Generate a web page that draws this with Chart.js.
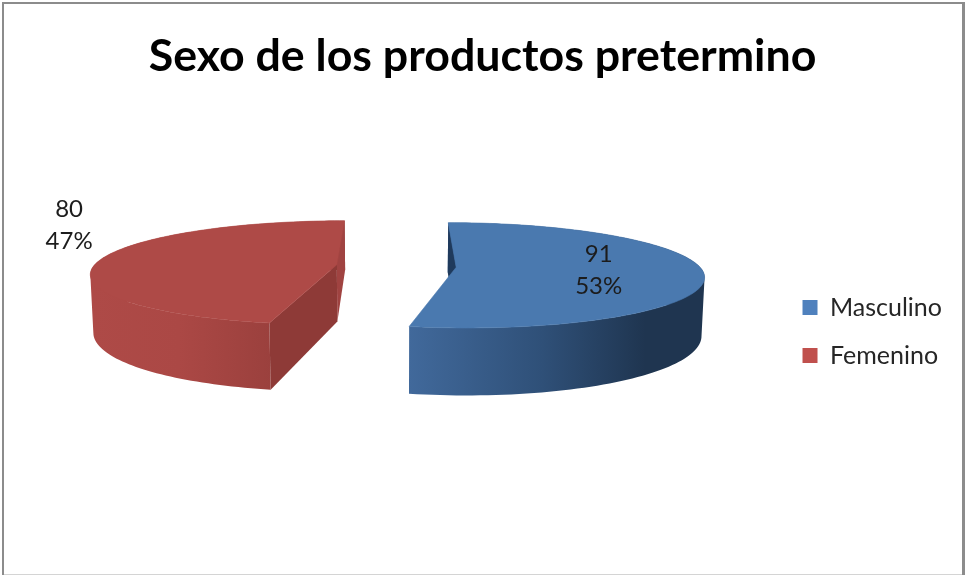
<!DOCTYPE html>
<html>
<head>
<meta charset="utf-8">
<title>Sexo de los productos pretermino</title>
<script src="https://cdn.jsdelivr.net/npm/chart.js@4"></script>
<style>
    html, body { margin: 0; padding: 0; background: #fff; }
    canvas { display: block; }
</style>
</head>
<body>
<canvas id="sexo" width="965" height="575"></canvas>
<script>
const categories = ['Masculino', 'Femenino'];
const counts = [91, 80];
const legendColors = ['#4f81bd', '#c0504d'];

// colours of the extruded pie, one entry per slice
const topColors = ['#4a79af', '#ae4a47'];
const wallStops = [
    [[0, '#41699b'], [0.45, '#2f5078'], [0.8, '#1f3550'], [1, '#1f3550']],
    [[0, '#ae4a47'], [0.35, '#ab4845'], [1, '#8e3a37']]
];
const startFaceColors = ['#1f3a5c', '#8e3a37'];
const endFaceColors = [null, '#a04341'];

// camera used to lay the pie flat
const camera = { distance: 1600, tilt: 0.21, depth: 57, floorScale: 0.99, centerY: 266 };

function project(arc, px, py) {
    const s = camera.distance / (camera.distance - py);
    return { x: arc.x + px * s, y: camera.centerY + camera.tilt * py * s, s: s };
}

function floorOf(arc, p) {
    return { x: arc.x + (p.x - arc.x) * camera.floorScale, y: p.y + camera.depth * p.s };
}

function rimPoints(arc) {
    const mid = (arc.startAngle + arc.endAngle) / 2;
    const ox = Math.cos(mid) * arc.options.offset;
    const oy = Math.sin(mid) * arc.options.offset;
    const pts = [];
    const steps = 120;
    for (let i = 0; i <= steps; i++) {
        const a = arc.startAngle + (arc.endAngle - arc.startAngle) * i / steps;
        pts.push(project(arc, ox + Math.cos(a) * arc.outerRadius, oy + Math.sin(a) * arc.outerRadius));
    }
    return { pts: pts, apex: project(arc, ox, oy) };
}

function fillPath(ctx, pts, fill) {
    ctx.beginPath();
    pts.forEach((p, i) => (i ? ctx.lineTo(p.x, p.y) : ctx.moveTo(p.x, p.y)));
    ctx.closePath();
    ctx.fillStyle = fill;
    ctx.fill();
}

// outer wall as one path of small quads, all wound the same way so they never cancel out
function fillWall(ctx, rim, floor, fill) {
    ctx.beginPath();
    for (let i = 0; i < rim.length - 1; i++) {
        const a = rim[i], b = rim[i + 1], c = floor[i + 1], d = floor[i];
        const area = (b.x - a.x) * (d.y - a.y) - (b.y - a.y) * (d.x - a.x);
        const quad = area > 0 ? [a, b, c, d] : [d, c, b, a];
        ctx.moveTo(quad[0].x, quad[0].y);
        ctx.lineTo(quad[1].x, quad[1].y);
        ctx.lineTo(quad[2].x, quad[2].y);
        ctx.lineTo(quad[3].x, quad[3].y);
        ctx.closePath();
    }
    ctx.fillStyle = fill;
    ctx.fill();
}

const framePlugin = {
    id: 'frame',
    beforeDraw(chart) {
        const ctx = chart.ctx;
        ctx.save();
        ctx.fillStyle = '#fff';
        ctx.fillRect(0, 0, chart.width, chart.height);
        ctx.fillStyle = '#8c8c8c';
        ctx.fillRect(2, 2, 961, 2);
        ctx.fillRect(2, 2, 2, 573);
        ctx.fillRect(962, 2, 3, 573);
        ctx.fillStyle = '#d4d4d4';
        ctx.fillRect(4, 574, 958, 1);
        ctx.restore();
    }
};

const pie3dPlugin = {
    id: 'pie3d',
    beforeDatasetsDraw(chart) {
        const ctx = chart.ctx;
        const arcs = chart.getDatasetMeta(0).data;
        ctx.save();
        arcs.forEach((arc, i) => {
            const rim = rimPoints(arc);
            const floor = rim.pts.map(p => floorOf(arc, p));
            const xs = rim.pts.map(p => p.x);
            const grad = ctx.createLinearGradient(Math.min(...xs), 0, Math.max(...xs), 0);
            wallStops[i].forEach(s => grad.addColorStop(s[0], s[1]));

            fillWall(ctx, rim.pts, floor, grad);

            // the two cut faces; the blue slice's second one is turned away and never shows
            const first = rim.pts[0];
            const last = rim.pts[rim.pts.length - 1];
            const apexFloor = floorOf(arc, rim.apex);
            if (endFaceColors[i]) {
                fillPath(ctx, [last, rim.apex, apexFloor, floorOf(arc, last)], endFaceColors[i]);
            }
            fillPath(ctx, [first, rim.apex, apexFloor, floorOf(arc, first)], startFaceColors[i]);

            // top surface, stroked a little so no light seam is left along the rim
            fillPath(ctx, [rim.apex].concat(rim.pts), topColors[i]);
            ctx.strokeStyle = topColors[i];
            ctx.lineWidth = 0.6;
            ctx.stroke();
        });
        ctx.restore();
        return false;
    },
    afterDraw(chart) {
        const ctx = chart.ctx;
        const arcs = chart.getDatasetMeta(0).data;
        const total = counts.reduce((a, b) => a + b, 0);
        // radius factor along the slice's middle, and a lift in pixels
        const labelPlace = [[0.58, 0], [1.135, -34]];
        ctx.save();
        ctx.font = '24px Lato';
        ctx.fillStyle = '#1c1c1c';
        ctx.textAlign = 'center';
        ctx.textBaseline = 'middle';
        arcs.forEach((arc, i) => {
            const mid = (arc.startAngle + arc.endAngle) / 2;
            const r = arc.outerRadius * labelPlace[i][0] + arc.options.offset;
            const p = project(arc, Math.cos(mid) * r, Math.sin(mid) * r);
            const y = p.y + labelPlace[i][1];
            ctx.fillText(String(counts[i]), p.x, y - 16);
            ctx.fillText(Math.round(counts[i] / total * 100) + '%', p.x, y + 16);
        });
        ctx.restore();
    }
};

new Chart(document.getElementById('sexo'), {
    type: 'pie',
    data: {
        labels: categories,
        datasets: [
            {
                data: counts,
                backgroundColor: legendColors,
                borderWidth: 0,
                offset: 60,
                radius: 243
            }
        ]
    },
    options: {
        responsive: false,
        animation: false,
        devicePixelRatio: 1,
        layout: { padding: { left: 13, right: 13, top: 0, bottom: 184 } },
        plugins: {
            title: {
                display: true,
                text: 'Sexo de los productos pretermino',
                color: '#000',
                font: { family: 'Lato', size: 44.7, weight: 'bold' },
                padding: { top: 30, bottom: 10 }
            },
            legend: {
                position: 'right',
                align: 'end',
                labels: {
                    boxWidth: 15,
                    boxHeight: 15,
                    padding: 23,
                    color: '#262626',
                    font: { family: 'Lato', size: 25 }
                }
            },
            tooltip: { enabled: false }
        }
    },
    plugins: [framePlugin, pie3dPlugin]
});
</script>
</body>
</html>
